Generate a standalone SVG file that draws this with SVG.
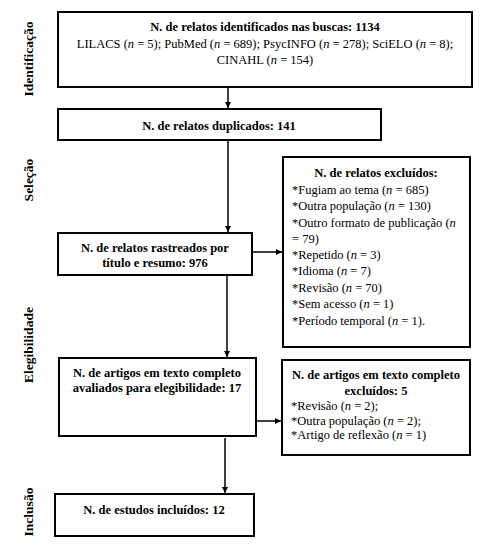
<svg xmlns="http://www.w3.org/2000/svg" width="491" height="555" viewBox="0 0 491 555">
<style>
.box{fill:#fff;stroke:#000;stroke-width:2}
text{font-family:"Liberation Serif","Times New Roman",serif;font-size:12.5px;fill:#000}
.b{font-weight:bold}
.c{text-anchor:middle}
.side{font-weight:bold;font-size:13.5px;text-anchor:middle}
.conn{stroke:#000;stroke-width:1.5;fill:none;marker-end:url(#ah)}
</style>
<defs>
<marker id="ah" viewBox="0 0 10 10" refX="10" refY="5" markerWidth="6" markerHeight="6" markerUnits="userSpaceOnUse" orient="auto">
<path d="M0,0 L10,5 L0,10 z" fill="#000"/>
</marker>
</defs>
<rect width="491" height="555" fill="#fff"/>
<g id="side-labels">
<text class="side" transform="translate(33,59) rotate(-90)">Identificação</text>
<text class="side" transform="translate(33,180) rotate(-90)">Seleção</text>
<text class="side" transform="translate(33,345) rotate(-90)">Elegibilidade</text>
<text class="side" transform="translate(33,512) rotate(-90)">Inclusão</text>
</g>
<g id="connectors">
<line class="conn" x1="228" y1="88" x2="228" y2="108"/>
<line class="conn" x1="228" y1="141" x2="228" y2="232"/>
<line class="conn" x1="253" y1="252" x2="282" y2="252"/>
<line class="conn" x1="227" y1="276" x2="227" y2="357"/>
<line class="conn" x1="257" y1="421" x2="281" y2="421"/>
<line class="conn" x1="225" y1="438" x2="225" y2="493"/>
</g>
<g id="n1">
<rect class="box" x="58" y="12" width="414" height="75"/>
<text class="b c" x="265" y="31">N. de relatos identificados nas buscas: 1134</text>
<text class="c" x="265" y="48">LILACS (<tspan font-style="italic">n</tspan> = 5); PubMed (<tspan font-style="italic">n</tspan> = 689); PsycINFO (<tspan font-style="italic">n</tspan> = 278); SciELO (<tspan font-style="italic">n</tspan> = 8);</text>
<text class="c" x="265" y="64">CINAHL (<tspan font-style="italic">n</tspan> = 154)</text>
</g>
<g id="n2">
<rect class="box" x="58" y="109" width="323" height="31"/>
<text class="b c" x="219" y="130">N. de relatos duplicados: 141</text>
</g>
<g id="n3">
<rect class="box" x="58" y="233" width="194" height="42"/>
<text class="b c" x="155" y="252">N. de relatos rastreados por</text>
<text class="b c" x="155" y="267">título e resumo: 976</text>
</g>
<g id="n4">
<rect class="box" x="283" y="157" width="187" height="190"/>
<text class="b c" x="376" y="177">N. de relatos excluídos:</text>
<text x="292" y="194">*Fugiam ao tema (<tspan font-style="italic">n</tspan> = 685)</text>
<text x="292" y="210">*Outra população (<tspan font-style="italic">n</tspan> = 130)</text>
<text x="292" y="227">*Outro formato de publicação (<tspan font-style="italic">n</tspan></text>
<text x="292" y="243">= 79)</text>
<text x="292" y="259">*Repetido (<tspan font-style="italic">n</tspan> = 3)</text>
<text x="292" y="275">*Idioma (<tspan font-style="italic">n</tspan> = 7)</text>
<text x="292" y="292">*Revisão (<tspan font-style="italic">n</tspan> = 70)</text>
<text x="292" y="308">*Sem acesso (<tspan font-style="italic">n</tspan> = 1)</text>
<text x="292" y="325">*Período temporal (<tspan font-style="italic">n</tspan> = 1).</text>
</g>
<g id="n5">
<rect class="box" x="59" y="358" width="197" height="78"/>
<text class="b c" x="157" y="377">N. de artigos em texto completo</text>
<text class="b c" x="157" y="392">avaliados para elegibilidade: 17</text>
</g>
<g id="n6">
<rect class="box" x="282" y="360" width="188" height="95"/>
<text class="b c" x="376" y="379">N. de artigos em texto completo</text>
<text class="b c" x="376" y="395">excluídos: 5</text>
<text x="291" y="410">*Revisão (<tspan font-style="italic">n</tspan> = 2);</text>
<text x="291" y="425">*Outra população (<tspan font-style="italic">n</tspan> = 2);</text>
<text x="291" y="439">*Artigo de reflexão (<tspan font-style="italic">n</tspan> = 1)</text>
</g>
<g id="n7">
<rect class="box" x="55" y="494" width="199" height="42"/>
<text class="b c" x="154" y="514">N. de estudos incluídos: 12</text>
</g>
</svg>
